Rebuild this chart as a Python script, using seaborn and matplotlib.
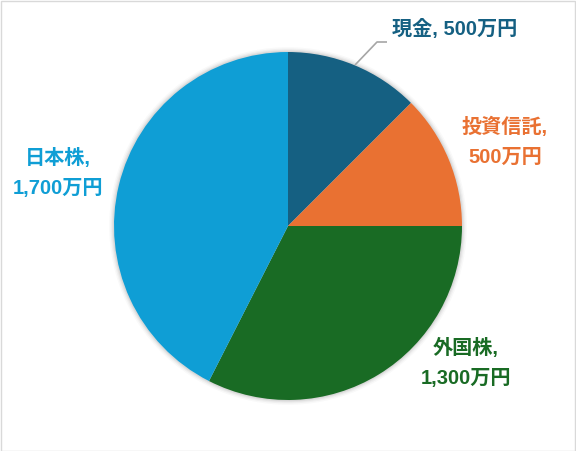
import matplotlib
matplotlib.use("Agg")
import matplotlib.pyplot as plt
import seaborn as sns
from matplotlib.patches import Circle, Rectangle

# Asset allocation (単位: 万円)
categories = ["現金", "投資信託", "外国株", "日本株"]
values = [500, 500, 1300, 1700]
label_texts = ["現金, 500万円", "投資信託,\n500万円", "外国株,\n1,300万円", "日本株,\n1,700万円"]
colors = ["#156082", "#E97132", "#196B24", "#0F9ED5"]

sns.set_theme(style="white")
plt.rcParams["font.family"] = ["Liberation Sans", "Noto Sans CJK JP"]

W, H, DPI = 576, 451, 100
fig = plt.figure(figsize=(W / DPI, H / DPI), dpi=DPI)
ax = fig.add_axes([0, 0, 1, 1])

# pie geometry in pixels: centre and radius
cx, cy, R = 288, 226, 174

palette = sns.color_palette(colors)
wedges, _ = ax.pie(values, colors=palette, startangle=90, counterclock=False,
                   radius=1.0, center=(0, 0), wedgeprops=dict(linewidth=0, zorder=3))

# soft shadow around the pie
for i, r in enumerate([1.028, 1.02, 1.013, 1.007]):
    ax.add_patch(Circle((0, 0), r, facecolor="#000000", alpha=0.025 + 0.01 * i,
                        edgecolor="none", zorder=1))

ax.set_aspect("auto")
ax.set_xlim(-cx / R, (W - cx) / R)
ax.set_ylim(-(H - cy) / R, cy / R)
ax.axis("off")


def px(x, y):
    return (x - cx) / R, (cy - y) / R


# label placement (pixel positions of the text centres)
label_pos = [(455, 29), (505, 142), (466, 363), (58, 173)]
for txt, (lx, ly), col in zip(label_texts, label_pos, colors):
    ax.text(*px(lx, ly), txt, ha="center", va="center", color=col,
            fontsize=14.5, fontweight="bold", linespacing=1.75, zorder=5)

# leader line for the small top slice
lx, ly = zip(px(355, 65), px(377, 42), px(387, 42))
ax.plot(lx, ly, color="#A6A6A6", lw=1.2, zorder=4, solid_capstyle="butt")

# chart-area border
fig.patches.append(Rectangle((0.5 / W, 0.5 / H), 1 - 1.5 / W, 1 - 1.5 / H,
                             transform=fig.transFigure, fill=False,
                             edgecolor="#D9D9D9", lw=1))

fig.savefig("out.png", dpi=DPI, facecolor="white")
